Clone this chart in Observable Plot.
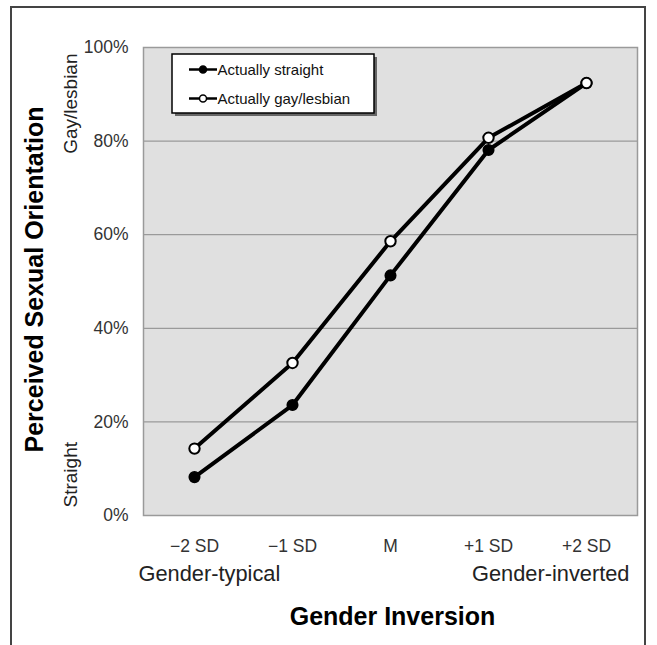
<!DOCTYPE html>
<html><head><meta charset="utf-8">
<script src="https://cdn.jsdelivr.net/npm/d3@7"></script>
<script src="https://cdn.jsdelivr.net/npm/@observablehq/plot@0.6"></script>
<style>
body{margin:0;background:#fff;}
#wrap{position:relative;width:657px;height:645px;overflow:hidden;font-family:"Liberation Sans",Arial,sans-serif;}
#border{position:absolute;left:10px;top:6px;width:636px;height:700px;border:2px solid #444;box-sizing:border-box;}
#wrap svg{position:absolute;left:0;top:0;}
</style></head><body><div id="wrap"><div id="border"></div></div>
<script>
const categories = ["−2 SD", "−1 SD", "M", "+1 SD", "+2 SD"];
const straightValues = [8.2, 23.6, 51.3, 78.1, 92.4];
const gayValues = [14.3, 32.6, 58.6, 80.7, 92.4];
const seriesNames = ["Actually straight", "Actually gay/lesbian"];
const yTicks = [0, 20, 40, 60, 80, 100];
const xEndLabels = ["Gender-typical", "Gender-inverted"];
const yEndLabels = ["Straight", "Gay/lesbian"];
const xTitle = "Gender Inversion";
const yTitle = "Perceived Sexual Orientation";

const straightData = categories.map((c, i) => ({cat: c, value: straightValues[i], series: seriesNames[0]}));
const gayData = categories.map((c, i) => ({cat: c, value: gayValues[i], series: seriesNames[1]}));
const font = "'Liberation Sans', Arial, sans-serif";

const svg = Plot.plot({
  width: 657, height: 645,
  marginLeft: 143, marginRight: 20, marginTop: 47, marginBottom: 130,
  style: {fontFamily: font, background: "transparent", overflow: "visible"},
  x: {type: "point", domain: categories, padding: 0.5},
  y: {domain: [0, 100]},
  marks: [
    Plot.frame({fill: "#e0e0e0"}),
    Plot.gridY(yTicks, {stroke: "#9a9a9a", strokeOpacity: 1, strokeWidth: 1.2}),
    Plot.frame({stroke: "#9a9a9a", strokeWidth: 1.5}),
    Plot.axisY(yTicks, {tickSize: 0, tickPadding: 15, tickFormat: d => d + "%", fontSize: 17.5, fill: "#333", label: null}),
    Plot.axisX({tickSize: 0, tickPadding: 24, fontSize: 17.5, fill: "#333", label: null}),
    Plot.line(straightData, {x: "cat", y: "value", stroke: "#000", strokeWidth: 4}),
    Plot.line(gayData, {x: "cat", y: "value", stroke: "#000", strokeWidth: 4}),
    Plot.dot(straightData, {x: "cat", y: "value", r: 5.3, fill: "#000", stroke: "#000", strokeWidth: 1.5}),
    Plot.dot(gayData, {x: "cat", y: "value", r: 5.2, fill: "#fff", stroke: "#000", strokeWidth: 2}),
    Plot.text([xEndLabels[0]], {text: d => d, frameAnchor: "bottom-left", textAnchor: "start", lineAnchor: "bottom", dx: -5, dy: 65, fontSize: 21.8, fill: "#222"}),
    Plot.text([xEndLabels[1]], {text: d => d, frameAnchor: "bottom-right", textAnchor: "end", lineAnchor: "bottom", dx: -8, dy: 65, fontSize: 21.8, fill: "#222"}),
    Plot.text([xTitle], {text: d => d, frameAnchor: "bottom", textAnchor: "middle", lineAnchor: "bottom", dx: 2, dy: 109, fontSize: 25, fontWeight: "bold", fill: "#000"}),
    Plot.text([yEndLabels[0]], {text: d => d, frameAnchor: "bottom-left", rotate: -90, textAnchor: "start", lineAnchor: "bottom", dx: -67, dy: -8, fontSize: 19, fill: "#222"}),
    Plot.text([yEndLabels[1]], {text: d => d, frameAnchor: "top-left", rotate: -90, textAnchor: "end", lineAnchor: "bottom", dx: -67, dy: 6, fontSize: 19, fill: "#222"}),
    Plot.text([yTitle], {text: d => d, frameAnchor: "left", rotate: -90, textAnchor: "middle", lineAnchor: "bottom", dx: -101, dy: -2, fontSize: 25, fontWeight: "bold", fill: "#000"})
  ]
});
document.getElementById("wrap").appendChild(svg);

// Legend drawn into the plot's SVG
const lg = d3.select(svg).append("g").attr("font-family", font).attr("text-anchor", "start");
const box = {x: 172, y: 54, w: 202, h: 59};
lg.append("rect").attr("x", box.x + 3).attr("y", box.y + 3).attr("width", box.w).attr("height", box.h).attr("fill", "#666");
lg.append("rect").attr("x", box.x).attr("y", box.y).attr("width", box.w).attr("height", box.h).attr("fill", "#fff").attr("stroke", "#000").attr("stroke-width", 1.5);
seriesNames.forEach((name, i) => {
  const cy = 69.5 + i * 29;
  const row = lg.append("g").attr("transform", `translate(0,${cy})`);
  row.append("line").attr("x1", 189).attr("x2", 217).attr("y1", 0).attr("y2", 0).attr("stroke", "#000").attr("stroke-width", 2.5);
  row.append("circle").attr("cx", 203).attr("cy", 0).attr("r", 3.5).attr("fill", i === 0 ? "#000" : "#fff").attr("stroke", "#000").attr("stroke-width", 1.5);
  row.append("text").attr("x", 217.5).attr("y", 0).attr("dy", "0.36em").attr("text-anchor", "start").attr("font-size", 15).attr("fill", "#111").text(name);
});
</script></body></html>
